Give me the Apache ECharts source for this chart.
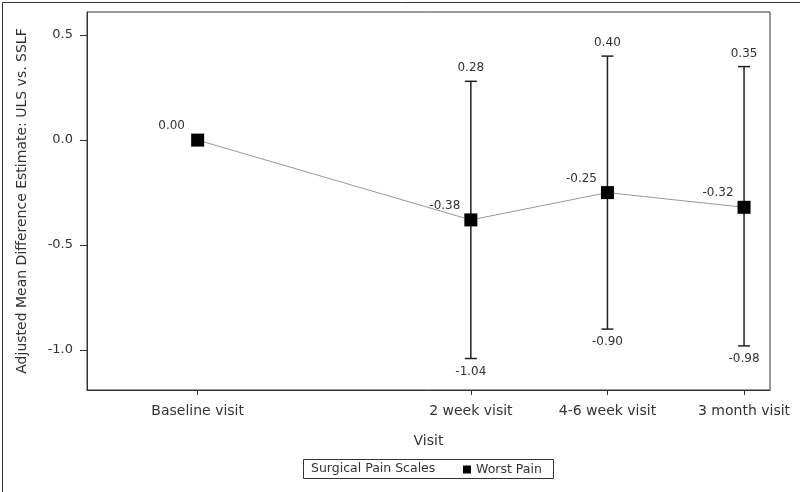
<!DOCTYPE html>
<html>
<head>
<meta charset="utf-8">
<script src="https://cdn.jsdelivr.net/npm/echarts@6/dist/echarts.min.js"></script>
<style>
  html, body { margin: 0; padding: 0; background: #fff; }
  #chart { width: 800px; height: 492px; }
</style>
</head>
<body>
<div id="chart"></div>
<script>
// visits placed on a numeric scale (baseline -> 2 week is twice the later gaps)
var visitLabels = ['Baseline visit', '2 week visit', '4-6 week visit', '3 month visit'];
var visitPos = [0, 2, 3, 4];
var estimate = [0.00, -0.38, -0.25, -0.32];
var lowerCI = [null, -1.04, -0.90, -0.98];
var upperCI = [null, 0.28, 0.40, 0.35];
var yTicks = [-1.0, -0.5, 0.0, 0.5];

var FONT = 'DejaVu Sans';
var TXT = '#333';

var lineData = visitPos.map(function (x, i) { return [x, estimate[i]]; });
var barData = [];
visitPos.forEach(function (x, i) {
  if (lowerCI[i] !== null) barData.push([x, lowerCI[i], upperCI[i]]);
});

var chart = echarts.init(document.getElementById('chart'));

var option = {
  backgroundColor: '#fff',
  animation: false,
  grid: {
    left: 87, top: 12, right: 30, bottom: 102,
    show: true, borderColor: '#333', borderWidth: 1
  },
  xAxis: {
    type: 'value',
    min: -0.81, max: 4.19,
    name: 'Visit',
    nameLocation: 'middle',
    nameGap: 44,
    nameTextStyle: { fontFamily: FONT, fontSize: 14, color: TXT },
    axisLine: { show: true, onZero: false, lineStyle: { color: '#333' } },
    axisTick: { show: true, length: 5, customValues: visitPos, lineStyle: { color: '#333' } },
    axisLabel: {
      customValues: visitPos,
      margin: 14,
      fontFamily: FONT, fontSize: 14, color: TXT,
      formatter: function (v) {
        var k = visitPos.indexOf(v);
        return k >= 0 ? visitLabels[k] : '';
      }
    },
    splitLine: { show: false }
  },
  yAxis: {
    type: 'value',
    min: -1.19, max: 0.61,
    name: 'Adjusted Mean Difference Estimate: ULS vs. SSLF',
    nameLocation: 'middle',
    nameGap: 58,
    nameTextStyle: { fontFamily: FONT, fontSize: 14, color: TXT },
    axisLine: { show: true, onZero: false, lineStyle: { color: '#333' } },
    axisTick: { show: true, length: 7, customValues: yTicks, lineStyle: { color: '#333' } },
    axisLabel: {
      customValues: yTicks,
      margin: 14,
      fontFamily: FONT, fontSize: 13, color: TXT,
      formatter: function (v) { return v.toFixed(1); }
    },
    splitLine: { show: false }
  },
  legend: {
    left: 463, top: 463,
    padding: 0,
    itemWidth: 8, itemHeight: 8,
    itemGap: 6,
    textStyle: { fontFamily: FONT, fontSize: 12.5, color: TXT },
    data: [{ name: 'Worst Pain', icon: 'rect' }]
  },
  graphic: [
    {
      type: 'rect', left: 0, top: 0, silent: true,
      shape: { x: 0.5, y: 0.5, width: 799, height: 491 },
      style: { fill: null, stroke: '#333', lineWidth: 1 }
    },
    {
      type: 'rect', silent: true,
      shape: { x: 303.5, y: 459.5, width: 250, height: 19 },
      style: { fill: '#fff', stroke: '#333', lineWidth: 1 },
      z: -1
    },
    {
      type: 'text', silent: true,
      x: 311, y: 469,
      style: { text: 'Surgical Pain Scales', font: '12.5px "DejaVu Sans"', fill: TXT, verticalAlign: 'middle' }
    }
  ],
  series: [
    {
      name: 'Worst Pain',
      type: 'line',
      data: lineData,
      symbol: 'rect',
      symbolSize: 13,
      itemStyle: { color: '#000' },
      lineStyle: { color: '#999', width: 1 },
      label: {
        show: true,
        position: 'inside',
        offset: [-26, -14],
        fontFamily: FONT, fontSize: 12, color: TXT,
        formatter: function (p) { return p.value[1].toFixed(2); }
      },
      z: 3
    },
    {
      name: 'CI',
      type: 'custom',
      data: barData,
      z: 2,
      renderItem: function (params, api) {
        var x = api.value(0);
        var lo = api.coord([x, api.value(1)]);
        var hi = api.coord([x, api.value(2)]);
        var cap = 6;
        var ls = { stroke: '#222', lineWidth: 1.5 };
        var ts = { font: '12px "DejaVu Sans"', fill: TXT, align: 'center' };
        return {
          type: 'group',
          children: [
            { type: 'line', shape: { x1: hi[0], y1: hi[1], x2: lo[0], y2: lo[1] }, style: ls },
            { type: 'line', shape: { x1: hi[0] - cap, y1: hi[1], x2: hi[0] + cap, y2: hi[1] }, style: ls },
            { type: 'line', shape: { x1: lo[0] - cap, y1: lo[1], x2: lo[0] + cap, y2: lo[1] }, style: ls },
            { type: 'text', x: hi[0], y: hi[1] - 13,
              style: Object.assign({ text: api.value(2).toFixed(2), verticalAlign: 'middle' }, ts) },
            { type: 'text', x: lo[0], y: lo[1] + 13,
              style: Object.assign({ text: api.value(1).toFixed(2), verticalAlign: 'middle' }, ts) }
          ]
        };
      }
    }
  ]
};

chart.setOption(option);
</script>
</body>
</html>
